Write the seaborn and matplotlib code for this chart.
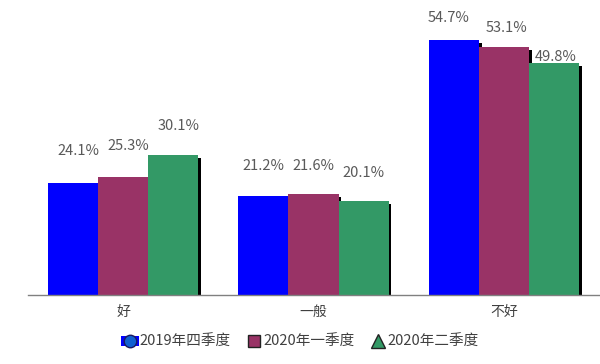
import matplotlib
matplotlib.use("Agg")
import matplotlib.pyplot as plt
import matplotlib.patheffects as pe
from matplotlib.lines import Line2D
from matplotlib.patches import Patch
import seaborn as sns
import pandas as pd

categories = ["好", "一般", "不好"]
series = ["2019年四季度", "2020年一季度", "2020年二季度"]
values_2019q4 = [24.1, 21.2, 54.7]
values_2020q1 = [25.3, 21.6, 53.1]
values_2020q2 = [30.1, 20.1, 49.8]
colors = ["#0000FF", "#993366", "#339966"]
# label vertical offsets (pixels above bar top), per series/category
label_offsets = [[32, 30, 22], [31, 28, 19], [29, 28, 6]]
label_dx = [[5, 0, -5], [5, 0, 3], [5, 0, 2]]

rows = []
for s, vals in zip(series, [values_2019q4, values_2020q1, values_2020q2]):
    for c, v in zip(categories, vals):
        rows.append({"cat": c, "series": s, "val": v})
df = pd.DataFrame(rows)

sns.set_theme(style="white")
plt.rcParams["font.family"] = ["Noto Sans CJK SC", "DejaVu Sans"]

fig = plt.figure(figsize=(6, 3.64), dpi=100)
ax = fig.add_axes([28 / 600, 69 / 364, 571 / 600, 280 / 364])

sns.barplot(data=df, x="cat", y="val", hue="series", order=categories,
            hue_order=series, palette=colors, saturation=1, width=0.79,
            gap=0, ax=ax, legend=False, edgecolor="none", linewidth=0)

shadow = [pe.SimplePatchShadow(offset=(2.0, -2.2), shadow_rgbFace="black", alpha=1.0), pe.Normal()]
for ci, cont in enumerate(ax.containers):
    for bi, bar in enumerate(cont):
        bar.set_path_effects(shadow)
        v = bar.get_height()
        ax.annotate(f"{v:.1f}%", (bar.get_x() + bar.get_width() / 2, v),
                    xytext=(label_dx[ci][bi] * 0.72, label_offsets[ci][bi] * 0.72),
                    textcoords="offset points", ha="center", va="center",
                    fontsize=10.5, color="#595959")

ax.set_ylim(0, 60)
ax.set_xlim(-0.5, 2.5)
ax.set_xlabel("")
ax.set_ylabel("")
ax.set_yticks([])
ax.tick_params(axis="x", length=0, pad=7, labelsize=10, colors="#404040")
for s in ["left", "right", "top"]:
    ax.spines[s].set_visible(False)
ax.spines["bottom"].set_color("#808080")
ax.spines["bottom"].set_linewidth(1)

h1 = (Patch(facecolor=colors[0], edgecolor="none"),
      Line2D([0], [0], marker="o", color="none", markerfacecolor="#1060d0",
             markeredgecolor="#1a1a60", markersize=9, linestyle="none"))
h2 = Line2D([0], [0], marker="s", color="none", markerfacecolor=colors[1],
            markeredgecolor="#222222", markersize=9, linestyle="none")
h3 = Line2D([0], [0], marker="^", color="none", markerfacecolor=colors[2],
            markeredgecolor="#222222", markersize=10, linestyle="none")
fig.legend([h1, h2, h3], series, loc="center", bbox_to_anchor=(0.5, 22 / 364),
           ncol=3, frameon=False, fontsize=10.5, handletextpad=0.05,
           handlelength=1.2, columnspacing=1.0, labelcolor="#404040")

fig.savefig("out.png", dpi=100)
